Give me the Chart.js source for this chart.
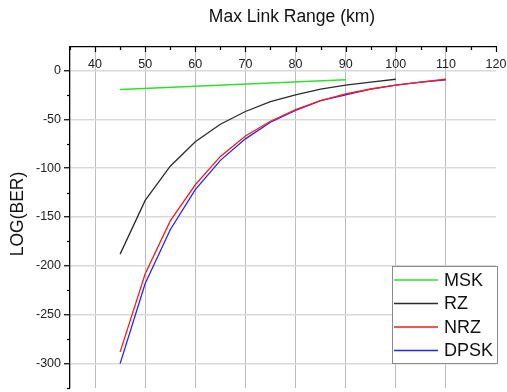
<!DOCTYPE html>
<html>
<head>
<meta charset="utf-8">
<script src="https://cdn.jsdelivr.net/npm/chart.js@4"></script>
<style>
  html, body { margin: 0; padding: 0; background: #fff; }
  #wrap { width: 507px; height: 392px; }
</style>
</head>
<body>
<div id="wrap"><canvas id="berChart" width="507" height="392"></canvas></div>
<script>
// ── DATA ────────────────────────────────────────────────────
const xTicks = [40, 50, 60, 70, 80, 90, 100, 110, 120];
const yTicks = [0, -50, -100, -150, -200, -250, -300];

const mskKm  = [45, 90];
const mskBer = [-19.5, -9.5];

const rzKm  = [45, 50, 55, 60, 65, 70, 75, 80, 85, 90, 95, 100];
const rzBer = [-188, -133, -98, -73, -55, -42, -32, -25, -19, -15, -12, -9];

const nrzKm  = [45, 50, 55, 60, 65, 70, 75, 80, 85, 90, 95, 100, 105, 110];
const nrzBer = [-288, -208, -154, -117, -88, -67, -52, -40, -31, -24, -19, -15, -12, -9];

const dpskKm  = [45, 50, 55, 60, 65, 70, 75, 80, 85, 90, 95, 100, 105, 110];
const dpskBer = [-300, -218, -163, -122, -92, -70, -53, -41, -31, -25, -19, -15, -12, -9.5];

const FONT = "Arial, 'Liberation Sans', sans-serif";

function pts(xs, ys) {
  return xs.map((x, i) => ({ x: x, y: ys[i] }));
}

function lineSet(label, xs, ys, color) {
  return {
    label: label,
    data: pts(xs, ys),
    borderColor: color,
    backgroundColor: color,
    borderWidth: 1.3,
    pointRadius: 0,
    tension: 0,
    fill: false,
  };
}

// ── DECORATION PLUGIN (inner ticks, titles, legend box) ─────
const decor = {
  id: 'decor',
  afterDraw(chart) {
    const ctx = chart.ctx;
    const xs = chart.scales.x;
    const ys = chart.scales.y;
    const area = chart.chartArea;
    ctx.save();

    // x axis: ticks pointing down into the plot, labels inside
    ctx.strokeStyle = '#000';
    ctx.lineWidth = 1.2;
    for (let v = xs.min; v <= xs.max; v += 5) {
      const px = Math.round(xs.getPixelForValue(v)) + 0.5;
      const len = (v % 10 === 0) ? 5 : 3;
      ctx.beginPath();
      ctx.moveTo(px, area.top);
      ctx.lineTo(px, area.top + len);
      ctx.stroke();
    }
    ctx.fillStyle = '#222';
    ctx.font = '12.5px ' + FONT;
    ctx.textAlign = 'center';
    ctx.textBaseline = 'middle';
    xTicks.forEach(v => {
      ctx.fillText(String(v), xs.getPixelForValue(v), area.top + 18);
    });

    // y axis minor ticks (outward)
    for (let v = -325; v <= 0; v += 50) {
      const py = Math.round(ys.getPixelForValue(v)) + 0.5;
      ctx.beginPath();
      ctx.moveTo(area.left - 3, py);
      ctx.lineTo(area.left, py);
      ctx.stroke();
    }

    // axis titles
    ctx.fillStyle = '#111';
    ctx.font = '17.5px ' + FONT;
    ctx.textAlign = 'center';
    ctx.textBaseline = 'middle';
    ctx.fillText('Max Link Range (km)', 292, 17);

    ctx.save();
    ctx.translate(18, 214);
    ctx.rotate(-Math.PI / 2);
    ctx.fillText('LOG(BER)', 0, 0);
    ctx.restore();

    // legend
    const lx = 392, ly = 266, lw = 105, lh = 97;
    ctx.fillStyle = '#fff';
    ctx.fillRect(lx, ly, lw, lh);
    ctx.strokeStyle = '#8a8a8a';
    ctx.lineWidth = 1;
    ctx.strokeRect(lx + 0.5, ly + 0.5, lw, lh);
    ctx.font = '18px ' + FONT;
    ctx.textAlign = 'left';
    ctx.textBaseline = 'middle';
    chart.data.datasets.forEach((ds, i) => {
      const cy = ly + 14 + i * 23.5;
      ctx.strokeStyle = ds.borderColor;
      ctx.lineWidth = 1.6;
      ctx.beginPath();
      ctx.moveTo(lx + 2, cy);
      ctx.lineTo(lx + 46, cy);
      ctx.stroke();
      ctx.fillStyle = '#111';
      ctx.fillText(ds.label, lx + 52, cy + 1);
    });

    ctx.restore();
  }
};

// ── CHART ───────────────────────────────────────────────────
const chartEl = document.getElementById('berChart');

new Chart(chartEl, {
  type: 'line',
  data: {
    datasets: [
      lineSet('MSK',  mskKm,  mskBer,  '#2ee02e'),
      lineSet('RZ',   rzKm,   rzBer,   '#2b2b2b'),
      lineSet('NRZ',  nrzKm,  nrzBer,  '#ff1a1a'),
      lineSet('DPSK', dpskKm, dpskBer, '#2424ff'),
    ]
  },
  options: {
    responsive: false,
    animation: false,
    devicePixelRatio: 1,
    layout: { padding: { left: 0, top: 0, right: 11, bottom: 4 } },
    plugins: {
      legend: { display: false },
      tooltip: { enabled: false },
    },
    scales: {
      x: {
        type: 'linear',
        position: 'top',
        min: 35,
        max: 120,
        afterFit: s => {
          s.height = 47;
          s.paddingLeft = 0; s.paddingRight = 0;
        },
        afterBuildTicks: s => { s.ticks = xTicks.map(v => ({ value: v })); },
        ticks: { display: false, stepSize: 10, includeBounds: false },
        grid: {
          drawTicks: false,
          color: ctx => (ctx.tick && ctx.tick.value === 120) ? 'rgba(0,0,0,0)' : '#bdbdbd',
          lineWidth: 1,
        },
        border: { display: true, color: '#000', width: 1.3 },
      },
      y: {
        type: 'linear',
        position: 'left',
        min: -325,
        max: 24,
        afterFit: s => {
          s.width = 70;
          s.paddingTop = 0; s.paddingBottom = 0;
        },
        afterBuildTicks: s => { s.ticks = yTicks.map(v => ({ value: v })); },
        ticks: {
          color: '#222',
          padding: 3,
          font: { family: FONT, size: 12.5 },
        },
        grid: {
          color: '#d9d9d9',
          lineWidth: 1.5,
          tickLength: 6,
          tickColor: '#000',
          tickWidth: 1.2,
        },
        border: { display: true, color: '#000', width: 1.3 },
      }
    }
  },
  plugins: [decor]
});
</script>
</body>
</html>
